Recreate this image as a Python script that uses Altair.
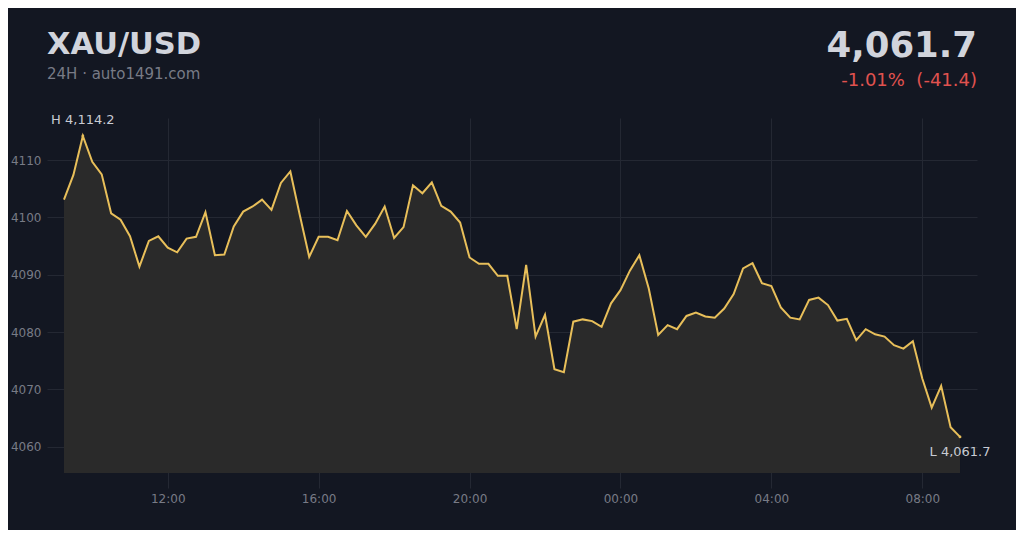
import altair as alt
import pandas as pd

# ---- data (15-minute closes, 24H) ----
prices = [
    4103.1, 4107.4, 4114.2, 4109.7, 4107.5, 4100.7, 4099.6, 4096.7, 4091.4, 4095.9,
    4096.7, 4094.7, 4093.9, 4096.3, 4096.6, 4100.9, 4093.4, 4093.5, 4098.4, 4101.0,
    4101.9, 4103.1, 4101.3, 4106.0, 4108.0, 4100.4, 4093.1, 4096.6, 4096.6, 4096.0,
    4101.1, 4098.6, 4096.6, 4098.9, 4101.9, 4096.4, 4098.3, 4105.6, 4104.2, 4106.1,
    4102.0, 4101.0, 4099.1, 4093.0, 4091.9, 4091.9, 4089.8, 4089.8, 4080.5, 4091.7,
    4079.2, 4083.0, 4073.5, 4073.0, 4081.8, 4082.2, 4081.9, 4080.9, 4085.0, 4087.3,
    4090.7, 4093.4, 4087.6, 4079.5, 4081.2, 4080.5, 4082.8, 4083.4, 4082.7, 4082.5,
    4084.1, 4086.6, 4091.1, 4092.0, 4088.5, 4088.0, 4084.3, 4082.5, 4082.2, 4085.6,
    4086.0, 4084.7, 4082.0, 4082.3, 4078.6, 4080.5, 4079.6, 4079.2, 4077.7, 4077.1,
    4078.4, 4071.9, 4066.8, 4070.6, 4063.4, 4061.7,
]
start_time = "2024-05-01 09:15"
y_ticks = [4060, 4070, 4080, 4090, 4100, 4110]
x_tick_hours = [(1, 12), (1, 16), (1, 20), (2, 0), (2, 4), (2, 8)]

symbol = "XAU/USD"
subtitle = "24H · auto1491.com"
last_price = "4,061.7"
change_text = "-1.01%\u00a0 (-41.4)"
high_label = "H 4,114.2"
low_label = "L 4,061.7"

# ---- styling ----
BG = "#131722"
GRID = "#242833"
LINE = "#e8bf5a"
FILL = "#2a2a2a"
TXT = "#d1d4dc"
LBL = "#c8cbd3"
MUTED = "#787b86"
RED = "#e0524f"
FONT = "DejaVu Sans"

times = pd.date_range(start_time, periods=len(prices), freq="15min")
df = pd.DataFrame({"t": times.strftime("%Y-%m-%dT%H:%M:%S"), "p": prices})
hi = df.loc[[df["p"].idxmax()]].assign(lbl=high_label)
lo = df.loc[[df["p"].idxmin()]].assign(lbl=low_label)

x_scale = alt.Scale(domain=[
    alt.DateTime(year=2024, month=5, date=1, hours=8, minutes=48),
    alt.DateTime(year=2024, month=5, date=2, hours=9, minutes=27),
])
x_axis = alt.Axis(
    values=[alt.DateTime(year=2024, month=5, date=d, hours=h) for d, h in x_tick_hours],
    format="%H:%M", title=None, labelPadding=5,
)
y_scale = alt.Scale(domain=[4052.79, 4117.33], nice=False, zero=False)
y_axis = alt.Axis(values=y_ticks, format="d", title=None, labelPadding=6)

X = alt.X("t:T", scale=x_scale, axis=x_axis)
Y = alt.Y("p:Q", scale=y_scale, axis=y_axis)

base = alt.Chart(df)
area = base.mark_area(color=FILL).encode(x=X, y=Y, y2=alt.datum(4055.4))
line = base.mark_line(color=LINE, strokeWidth=2).encode(x=X, y=Y)

pts = alt.Chart(pd.concat([hi, lo])).mark_point(
    filled=True, color=LINE, size=8, opacity=1
).encode(x=X, y=Y)
hi_txt = alt.Chart(hi).mark_text(
    color=LBL, fontSize=13, font=FONT, dy=-16, align="center"
).encode(x=X, y=Y, text="lbl:N")
lo_txt = alt.Chart(lo).mark_text(
    color=LBL, fontSize=13, font=FONT, dy=15, align="center"
).encode(x=X, y=Y, text="lbl:N")

hdr = pd.DataFrame({"k": [0]})
h = alt.Chart(hdr)
t_symbol = h.mark_text(
    text=symbol, fontSize=30.5, fontWeight="bold", color=TXT, font=FONT,
    align="left", baseline="alphabetic"
).encode(x=alt.value(0), y=alt.value(-64))
t_sub = h.mark_text(
    text=subtitle, fontSize=15, color=MUTED, font=FONT,
    align="left", baseline="alphabetic"
).encode(x=alt.value(0), y=alt.value(-39))
t_price = h.mark_text(
    text=last_price, fontSize=35.5, fontWeight="bold", color=TXT, font=FONT,
    align="right", baseline="alphabetic"
).encode(x=alt.value(930), y=alt.value(-61))
t_change = h.mark_text(
    text=change_text, fontSize=18, color=RED, font=FONT,
    align="right", baseline="alphabetic"
).encode(x=alt.value(930), y=alt.value(-32))

chart = alt.layer(
    area, line, pts, hi_txt, lo_txt, t_symbol, t_sub, t_price, t_change
).properties(
    width=930, height=370,
    autosize=alt.AutoSizeParams(type="none"),
    padding={"left": 39, "top": 110, "right": 39, "bottom": 42},
    background=BG,
).configure_view(
    stroke=None
).configure_axis(
    grid=True, gridColor=GRID, gridWidth=1, domain=False, ticks=False, tickSize=0,
    labelColor=MUTED, labelFont=FONT, labelFontSize=12,
)

chart.save("out.html", embed_options={"renderer": "svg", "actions": False})
